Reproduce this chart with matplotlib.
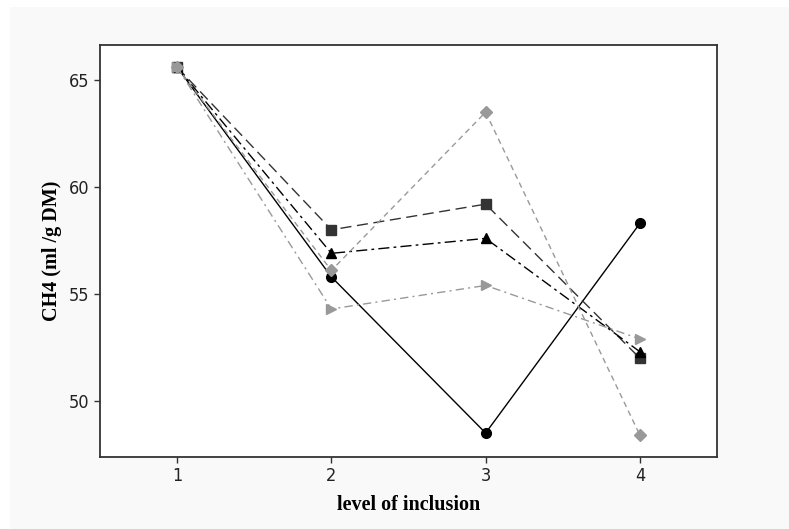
import matplotlib
matplotlib.use('Agg')
import matplotlib.pyplot as plt
from matplotlib.patches import Rectangle

# Datos
niveles = [1, 2, 3, 4]
serie_circulo = [65.6, 55.8, 48.5, 58.3]
serie_cuadro = [65.6, 58.0, 59.2, 52.0]
serie_triangulo = [65.6, 56.9, 57.6, 52.3]
serie_rombo = [65.6, 56.1, 63.5, 48.4]
serie_tri_der = [65.6, 54.3, 55.4, 52.9]
ticks_y = [50, 55, 60, 65]

fig = plt.figure(figsize=(7.89, 5.29), dpi=100, facecolor='white')
# Panel gris de fondo
fig.patches.append(Rectangle((10 / 789, 0), 1, 1 - 7 / 529, transform=fig.transFigure,
                             facecolor='#f9f9f9', edgecolor='none', zorder=-1))

ax = fig.add_axes([100 / 789, 1 - 457 / 529, 617 / 789, 412 / 529])
ax.set_facecolor('white')

ax.plot(niveles, serie_circulo, color='black', linestyle='-', linewidth=1,
        marker='o', markersize=7)
ax.plot(niveles, serie_cuadro, color='#333333', linestyle=(0, (8, 4)), linewidth=1,
        marker='s', markersize=7)
ax.plot(niveles, serie_triangulo, color='black', linestyle=(0, (8, 3, 2, 3)), linewidth=1,
        marker='^', markersize=7)
ax.plot(niveles, serie_rombo, color='#999999', linestyle=(0, (4, 3)), linewidth=1,
        marker='D', markersize=6)
ax.plot(niveles, serie_tri_der, color='#999999', linestyle=(0, (6, 3, 1.5, 3)), linewidth=1,
        marker='>', markersize=7)

ax.set_xlim(0.5, 4.5)
ax.set_ylim(47.38, 66.64)
ax.set_xticks(niveles)
ax.set_yticks(ticks_y)
ax.tick_params(labelsize=13, length=4, width=1, color='#333333', labelcolor='#222222')
for lbl in ax.get_xticklabels() + ax.get_yticklabels():
    lbl.set_family('DejaVu Sans')
    lbl.set_stretch('condensed')

for s in ax.spines.values():
    s.set_color('#333333')
    s.set_linewidth(1.3)

ax.set_xlabel('level of inclusion', family='Liberation Serif', fontweight='bold',
              fontsize=14.5, labelpad=7)
ax.set_ylabel('CH4 (ml /g DM)', family='Liberation Serif', fontweight='bold',
              fontsize=14.5, labelpad=5)

fig.savefig('out.png', dpi=100, facecolor=fig.get_facecolor())
